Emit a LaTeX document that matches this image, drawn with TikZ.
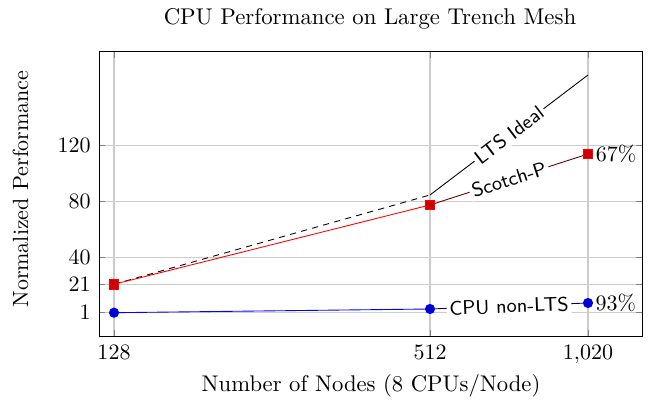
\documentclass[tikz,border=0pt]{standalone}
\usetikzlibrary{calc}
\begin{document}
\begin{tikzpicture}[x=0.4545pt,y=-0.4545pt,
  gridline/.style={black!20, line width=0.5pt},
  tickmark/.style={black!50, line width=0.4pt},
  axisframe/.style={black, line width=0.4pt},
  sqmark/.style={rectangle, draw=red, fill=red!80!black, minimum size=4.4pt, inner sep=0pt},
  circmark/.style={circle, draw=blue, fill=blue!80!black, minimum size=4.2pt, inner sep=0pt},
  ticklabel/.style={inner sep=0pt},
  linelabel/.style={font=\small\sffamily, text=black, fill=white, inner sep=1.2pt, sloped},
  pctlabel/.style={anchor=west, inner sep=0pt}
]
\useasboundingbox (0,0) rectangle (653,401);

% frame corners
\coordinate (bl) at (99,336);
\coordinate (tr) at (642.3,51.7);

% grid
\foreach \gx in {114,430,588} \draw[gridline] (\gx,51.7) -- (\gx,336);
\foreach \gy in {312.7,284.3,257.7,201.7,145.7} \draw[gridline] (99,\gy) -- (642.3,\gy);

% ticks
\foreach \gx in {114,430,588} {
  \draw[tickmark] (\gx,336) -- (\gx,330);
  \draw[tickmark] (\gx,51.7) -- (\gx,57.7);
}
\foreach \gy in {312.7,284.3,257.7,201.7,145.7} {
  \draw[tickmark] (99,\gy) -- (105,\gy);
  \draw[tickmark] (642.3,\gy) -- (636.3,\gy);
}

% frame
\draw[axisframe] (bl) rectangle (tr);

% tick labels
\node[ticklabel, anchor=base] (xt1) at (114,360) {$128$};
\node[ticklabel, anchor=base] (xt2) at (430,360) {$512$};
\node[ticklabel, anchor=base] (xt3) at (588,360) {$1{,}020$};
\node[ticklabel, anchor=east] (yt1) at (91,312.7) {$1$};
\node[ticklabel, anchor=east] (yt2) at (91,284.3) {$21$};
\node[ticklabel, anchor=east] (yt3) at (91,257.7) {$40$};
\node[ticklabel, anchor=east] (yt4) at (91,201.7) {$80$};
\node[ticklabel, anchor=east] (yt5) at (91,145.7) {$120$};

% axis labels and title
\node[anchor=base, font=\fontsize{10.35}{12.5}\selectfont] (title) at (370,25) {CPU Performance on Large Trench Mesh};
\node[anchor=base, font=\fontsize{10.3}{12.5}\selectfont] (xlab) at (371,392) {Number of Nodes (8 CPUs/Node)};
\node[anchor=base, rotate=90] (ylab) at (28,189) {Normalized Performance};

% data positions
\coordinate (ps1) at (114,284.3);
\coordinate (ps2) at (430,205);
\coordinate (ps3) at (588,154);
\coordinate (pc1) at (114,312.7);
\coordinate (pc2) at (430,309);
\coordinate (pc3) at (588,303);
\coordinate (i2) at (430,195);
\coordinate (i3) at (588,75);

% lines
\draw[black, dashed, dash pattern=on 2.8pt off 2.4pt] (ps1) -- (i2);
\draw[black] (i2) -- node[linelabel] (lts) {LTS Ideal} (i3);
\draw[red] (ps1) -- (ps2);
\draw[red!40!black] (ps2) -- node[linelabel] (sct) {Scotch-P} (ps3);
\draw[blue] (pc1) -- (pc2);
\draw[blue!40!black] (pc2) -- node[linelabel] (cpu) {CPU non-LTS} (pc3);

% marks
\node[sqmark] (s1) at (ps1) {};
\node[sqmark] (s2) at (ps2) {};
\node[sqmark] (s3) at (ps3) {};
\node[circmark] (c1) at (pc1) {};
\node[circmark] (c2) at (pc2) {};
\node[circmark] (c3) at (pc3) {};

% percentages
\node[pctlabel] (p67) at ([xshift=1pt]s3.east) {67\%};
\node[pctlabel] (p93) at ([xshift=1pt]c3.east) {93\%};
\end{tikzpicture}
\end{document}
